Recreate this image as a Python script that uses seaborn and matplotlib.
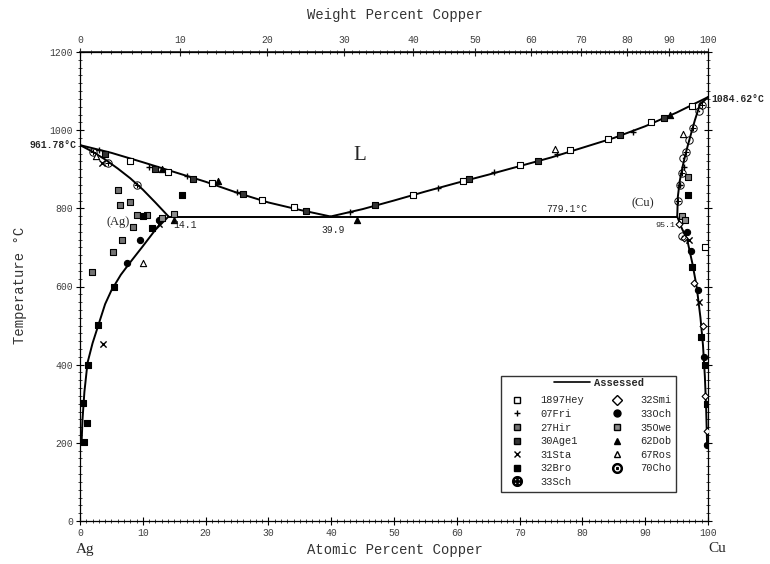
import numpy as np
import pandas as pd
import matplotlib
matplotlib.use("Agg")
import matplotlib.pyplot as plt
import seaborn as sns
from matplotlib.lines import Line2D
from matplotlib.ticker import MultipleLocator

sns.set_theme(style="ticks")
plt.rcParams['font.family'] = ['Liberation Mono', 'DejaVu Sans']

# ---------------- data ----------------
# assessed phase boundaries (at.% Cu, temperature °C)
liq_ag_x = [0, 5, 10, 15, 20, 25, 30, 35, 39.9]
liq_ag_t = [961.78, 942, 918, 893, 868, 840, 815, 796, 779.1]
liq_cu_x = [39.9, 45, 50, 55, 60, 65, 70, 75, 80, 85, 90, 95, 100]
liq_cu_t = [779.1, 798, 820, 843, 865, 886, 908, 930, 955, 980, 1010, 1045, 1084.62]
sol_ag_x = [0, 2, 4, 6, 8, 10, 12, 14.1]
sol_ag_t = [961.78, 945, 925, 902, 877, 848, 815, 779.1]
solv_ag_x = [14.1, 12, 10, 8, 6.5, 5, 4, 3, 2, 1.2, 0.7, 0.4, 0.25]
solv_ag_t = [779.1, 745, 703, 662, 630, 590, 555, 505, 455, 405, 330, 260, 200]
eut_x = [14.1, 95.1]
eut_t = [779.1, 779.1]
sol_cu_x = [95.1, 95.2, 95.5, 96.0, 96.6, 97.2, 97.9, 98.7, 100]
sol_cu_t = [779.1, 830, 870, 910, 950, 985, 1025, 1065, 1084.62]
solv_cu_x = [95.1, 95.8, 96.7, 97.5, 98.2, 98.8, 99.2, 99.5, 99.7, 99.85]
solv_cu_t = [779.1, 750, 719, 660, 599, 520, 450, 370, 290, 200]

# experimental data sets
hey_x = [8, 14, 21, 29, 34, 53, 61, 70, 78, 84, 91, 97.5, 99.5]
hey_t = [922, 893, 866, 822, 803, 834, 870, 910, 948, 978, 1020, 1062, 700]
fri_x = [3, 11, 17, 25, 43, 57, 66, 76, 88, 95.5, 96.2]
fri_t = [950, 905, 882, 842, 790, 852, 892, 938, 996, 860, 905]
hir_x = [6, 8, 6.4, 9.1, 10.7, 8.4, 6.7, 5.3, 1.9, 96.8]
hir_t = [847, 816, 809, 783, 783, 752, 719, 688, 637, 880]
age_x = [4, 12, 18, 26, 36, 47, 62, 73, 86, 93]
age_t = [940, 900, 876, 836, 793, 808, 874, 922, 987, 1030]
sta_x = [3.7, 3.5, 12.5, 97, 98.6]
sta_t = [452, 915, 760, 720, 560]
bro_x = [0.6, 1.1, 0.5, 1.3, 2.9, 5.4, 16.2, 10, 11.5, 96.8, 97.5, 98.9, 99.6, 99.8]
bro_t = [202, 251, 302, 399, 502, 599, 834, 780, 750, 834, 650, 470, 400, 300]
sch1_x = [2, 4.5, 9, 95.3, 95.8, 96.5, 97.6, 99]
sch1_t = [945, 917, 860, 820, 890, 945, 1005, 1065]
smi_x = [95.4, 96.2, 97.8, 99.2, 99.6, 99.8]
smi_t = [760, 725, 610, 500, 320, 230]
sch2_x = [9.5, 12.5, 7.5, 96.6, 97.3, 98.4, 99.4, 99.9]
sch2_t = [720, 770, 660, 740, 690, 590, 420, 195]
owe_x = [15, 13, 95.8, 96.4]
owe_t = [786, 775, 780, 770]
dob_x = [44.1, 13, 22, 15, 94]
dob_t = [770, 900, 870, 770, 1040]
ros_x = [10, 75.6, 2.5, 96]
ros_t = [660, 952, 935, 990]
cho_x = [95.5, 96, 97, 98.5, 95.9]
cho_t = [860, 930, 975, 1050, 730]

xticks = [0, 10, 20, 30, 40, 50, 60, 70, 80, 90, 100]
yticks = [0, 200, 400, 600, 800, 1000, 1200]
wt_ticks = [0, 10, 20, 30, 40, 50, 60, 70, 80, 90, 100]

# ---------------- figure ----------------
fig = plt.figure(figsize=(7.7, 5.64), dpi=100)
ax = fig.add_axes([80 / 770, 43 / 564, 628 / 770, 469 / 564])

lines = [(liq_ag_x, liq_ag_t), (liq_cu_x, liq_cu_t), (sol_ag_x, sol_ag_t),
         (solv_ag_x, solv_ag_t), (eut_x, eut_t), (sol_cu_x, sol_cu_t),
         (solv_cu_x, solv_cu_t)]
for lx, lt in lines:
    sns.lineplot(x=lx, y=lt, ax=ax, sort=False, estimator=None,
                 color='black', lw=1.4)

datasets = [
    ("1897Hey", hey_x, hey_t, 's', 'white'),
    ("07Fri", fri_x, fri_t, '+', 'black'),
    ("27Hir", hir_x, hir_t, 's', '0.45'),
    ("30Age1", age_x, age_t, 's', '0.2'),
    ("31Sta", sta_x, sta_t, 'x', 'black'),
    ("32Bro", bro_x, bro_t, 's', 'black'),
    ("33Sch", sch1_x, sch1_t, r'$\oplus$', 'black'),
    ("32Smi", smi_x, smi_t, 'D', 'white'),
    ("33Och", sch2_x, sch2_t, 'o', 'black'),
    ("35Owe", owe_x, owe_t, 's', '0.55'),
    ("62Dob", dob_x, dob_t, '^', 'black'),
    ("67Ros", ros_x, ros_t, '^', 'white'),
    ("70Cho", cho_x, cho_t, r'$\odot$', 'black'),
]
handles = []
for name, dx, dt, m, fc in datasets:
    size = 20
    if m in ('+', 'x'):
        kw = dict(color='black', linewidth=1.0)
    elif m.startswith('$'):
        kw = dict(color='black', linewidth=0.0)
        size = 36
    else:
        kw = dict(facecolor=fc, edgecolor='black', linewidth=0.8)
    if m == 'D':
        size = 12
    sns.scatterplot(x=dx, y=dt, ax=ax, marker=m, s=size, zorder=3, **kw)
    handles.append(Line2D([], [], linestyle='none', marker=m,
                          markerfacecolor=fc if m not in ('+', 'x') else 'black',
                          markeredgecolor='black', markersize=5 if not m.startswith('$') else 7,
                          label=name))

ax.set_xlim(0, 100)
ax.set_ylim(0, 1200)
ax.set_xticks(xticks)
ax.set_yticks(yticks)
ax.xaxis.set_minor_locator(MultipleLocator(1))
ax.yaxis.set_minor_locator(MultipleLocator(20))
ax.tick_params(axis='both', which='major', direction='inout', length=6, width=0.8,
               labelsize=7, colors='black', labelcolor='0.25', pad=2)
ax.tick_params(axis='both', which='minor', direction='inout', length=3, width=0.6)
ax.tick_params(axis='y', which='both', right=True, labelright=False)
ax.set_xlabel("")
ax.set_ylabel("")
for s in ax.spines.values():
    s.set_color('black')
    s.set_linewidth(0.9)
    s.set_visible(True)


def at2wt(a):
    a = np.asarray(a, dtype=float)
    num = a * 63.546
    den = a * 63.546 + (100 - a) * 107.868
    with np.errstate(divide='ignore', invalid='ignore'):
        return 100 * num / den


def wt2at(w):
    w = np.asarray(w, dtype=float)
    num = w / 63.546
    den = w / 63.546 + (100 - w) / 107.868
    with np.errstate(divide='ignore', invalid='ignore'):
        return 100 * num / den


sec = ax.secondary_xaxis('top', functions=(at2wt, wt2at))
sec.set_xticks(wt_ticks)
sec.xaxis.set_minor_locator(MultipleLocator(1))
sec.tick_params(axis='x', which='major', direction='inout', length=6, width=0.8,
                labelsize=7, labelcolor='0.25', pad=2)
sec.tick_params(axis='x', which='minor', direction='inout', length=3, width=0.6)

# axis titles placed as figure text
fig.text(395 / 770, 1 - 15 / 564, "Weight Percent Copper", ha='center', va='center',
         fontsize=10, color='0.2')
fig.text(395 / 770, 1 - 550 / 564, "Atomic Percent Copper", ha='center', va='center',
         fontsize=10, color='0.2')
fig.text(20 / 770, 1 - 285 / 564, "Temperature °C", ha='center', va='center',
         rotation=90, fontsize=10, color='0.2')
fig.text(85 / 770, 1 - 549 / 564, "Ag", ha='center', va='center', fontsize=11,
         family='Liberation Serif')
fig.text(717 / 770, 1 - 549 / 564, "Cu", ha='center', va='center', fontsize=11,
         family='Liberation Serif')

# annotations
ax.text(-0.5, 961.78, "961.78°C", ha='right', va='center', fontsize=7, fontweight='bold')
ax.text(100.6, 1084.62 - 4, "1084.62°C", ha='left', va='center', fontsize=7, fontweight='bold')
ax.text(44.5, 935, "L", ha='center', va='center', fontsize=15, family='Liberation Serif')
ax.text(6, 765, "(Ag)", ha='center', va='center', fontsize=9, family='Liberation Serif')
ax.text(14.8, 757, "14.1", ha='left', va='center', fontsize=7)
ax.text(40.3, 745, "39.9", ha='center', va='center', fontsize=7)
ax.text(77.5, 798, "779.1°C", ha='center', va='center', fontsize=7)
ax.text(89.6, 812, "(Cu)", ha='center', va='center', fontsize=9, family='Liberation Serif')
ax.text(93.2, 755, "95.1", ha='center', va='center', fontsize=6)

# legend
leg = ax.legend(handles=handles, ncol=2, loc='lower right',
                bbox_to_anchor=(0.958, 0.05), frameon=True, fontsize=7.5,
                title=" ", title_fontsize=8, handletextpad=1.2, columnspacing=2.2,
                labelspacing=0.35, borderpad=0.5, fancybox=False, edgecolor='black')
leg.get_frame().set_linewidth(1.0)
ax.add_artist(leg)
leg2 = ax.legend(handles=[Line2D([], [], color='black', lw=1.2, label='Assessed')],
                 loc='upper center', bbox_to_anchor=(0.826, 0.325), frameon=False,
                 fontsize=7.5, handlelength=3.5, handletextpad=0.3)
for t in leg2.get_texts():
    t.set_fontweight('bold')

fig.savefig("out.png", dpi=100)
